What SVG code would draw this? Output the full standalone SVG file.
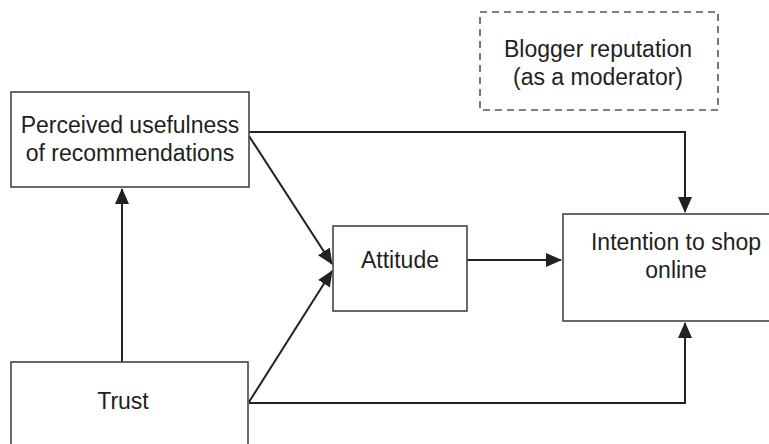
<svg xmlns="http://www.w3.org/2000/svg" width="769" height="444" viewBox="0 0 769 444">
<style>
.box{fill:#fff;stroke:#444;stroke-width:1.6}
.dash{fill:#fff;stroke:#555;stroke-width:1.6;stroke-dasharray:7 5}
.t{font-family:"Liberation Sans",Arial,sans-serif;font-size:23px;fill:#231f20;text-anchor:middle}
.c{fill:none;stroke:#222;stroke-width:2}
</style>
<defs>
<marker id="ah" markerUnits="userSpaceOnUse" markerWidth="16" markerHeight="14" refX="15" refY="7" orient="auto">
<path d="M0,0 L16,7 L0,14 Z" fill="#222"/>
</marker>
</defs>
<rect width="769" height="444" fill="#fff"/>
<g id="connectors">
<path class="c" d="M249,132 H685 V212" marker-end="url(#ah)"/>
<path class="c" d="M249,403 H685 V323" marker-end="url(#ah)"/>
<path class="c" d="M122,362 V189" marker-end="url(#ah)"/>
<path class="c" d="M249,136 L332,264" marker-end="url(#ah)"/>
<path class="c" d="M249,402 L332,271" marker-end="url(#ah)"/>
<path class="c" d="M467,260 H561" marker-end="url(#ah)"/>
</g>
<g id="moderator">
<rect class="dash" x="480" y="12" width="238" height="98"/>
<text class="t" x="598" y="57">Blogger reputation</text>
<text class="t" x="598" y="85">(as a moderator)</text>
</g>
<g id="perceived">
<rect class="box" x="11" y="92" width="238" height="95"/>
<text class="t" x="130" y="133">Perceived usefulness</text>
<text class="t" x="130" y="161">of recommendations</text>
</g>
<g id="attitude">
<rect class="box" x="333" y="226" width="134" height="85"/>
<text class="t" x="400" y="268">Attitude</text>
</g>
<g id="intention">
<rect class="box" x="563" y="214" width="226" height="107"/>
<text class="t" x="676" y="250">Intention to shop</text>
<text class="t" x="676" y="278">online</text>
</g>
<g id="trust">
<rect class="box" x="11" y="362" width="237" height="100"/>
<text class="t" x="123" y="409">Trust</text>
</g>
</svg>
